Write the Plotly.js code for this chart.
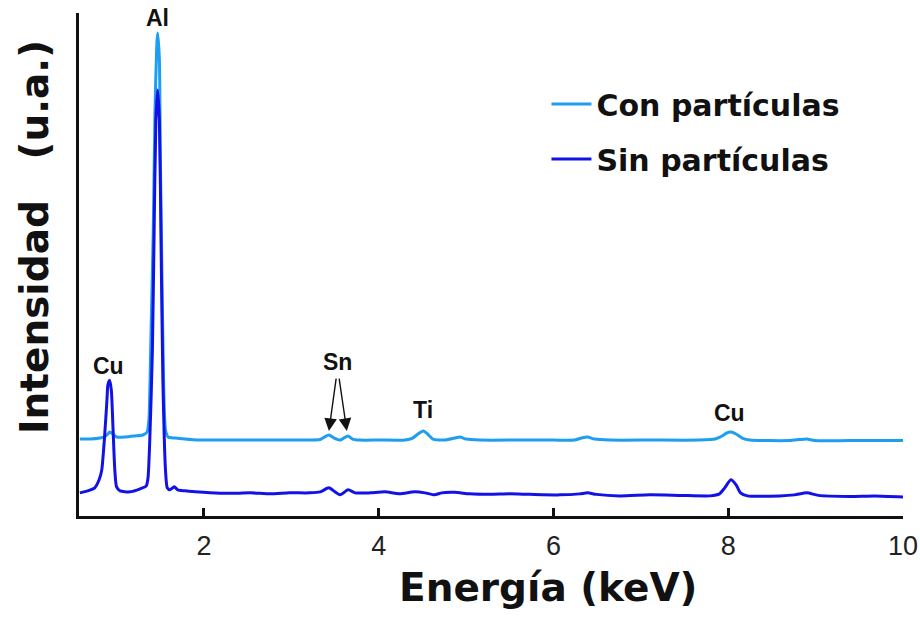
<!DOCTYPE html>
<html>
<head>
<meta charset="utf-8">
<script src="https://cdn.plot.ly/plotly-3.0.1.min.js"></script>
<style>html,body{margin:0;padding:0;background:#fff;}#chart{width:920px;height:617px;}</style>
</head>
<body>
<div id="chart"></div>
<script>
// Energy (keV) and intensity (a.u.)
const energyCon = [0.58,0.70,0.81,0.86,0.90,0.92,0.96,1.00,1.10,1.21,1.30,1.35,1.37,1.39,1.42,1.44,1.46,1.47,1.49,1.50,1.52,1.54,1.56,1.59,1.67,1.78,1.95,2.30,2.70,3.10,3.33,3.38,3.43,3.49,3.56,3.60,3.65,3.70,3.78,4.01,4.30,4.39,4.45,4.51,4.56,4.62,4.76,4.87,4.93,5.00,5.16,5.60,6.00,6.24,6.32,6.39,6.47,6.65,7.10,7.67,7.85,7.93,7.98,8.03,8.09,8.16,8.25,8.70,8.82,8.90,8.99,9.39,10.0];
const intensityCon = [15.3,15.3,15.5,15.7,16.3,16.7,16.3,15.7,15.7,15.9,16.1,16.7,19.1,33.0,56.9,80.7,93.6,96.0,90.7,72.8,46.9,25.0,17.1,15.7,15.5,15.3,15.1,15.1,15.1,15.1,15.2,15.7,16.1,15.5,15.1,15.5,15.9,15.3,15.1,15.1,15.1,15.5,16.3,16.9,16.3,15.3,15.1,15.5,15.7,15.3,15.1,15.1,15.1,15.1,15.5,15.7,15.3,15.1,15.1,15.1,15.3,15.9,16.5,16.7,16.3,15.5,15.1,15.0,15.2,15.3,15.0,15.0,15.0];

const energySin = [0.58,0.67,0.75,0.80,0.83,0.86,0.89,0.90,0.92,0.94,0.96,0.98,1.00,1.04,1.15,1.27,1.34,1.36,1.38,1.41,1.43,1.45,1.47,1.49,1.51,1.53,1.56,1.58,1.61,1.66,1.70,1.78,1.90,2.07,2.30,2.53,2.76,2.98,3.21,3.33,3.43,3.50,3.56,3.65,3.73,3.90,4.07,4.24,4.41,4.53,4.64,4.72,4.87,5.04,5.27,5.50,5.73,6.07,6.30,6.39,6.49,6.76,7.10,7.45,7.79,7.90,7.96,8.03,8.09,8.14,8.22,8.59,8.76,8.90,9.03,9.39,9.68,10.0];
const intensitySin = [4.6,5.0,5.6,7.2,9.1,15.1,23.1,26.0,27.0,25.0,17.1,9.1,5.8,5.0,4.8,5.4,6.0,7.6,15.1,33.0,56.9,78.7,84.7,78.7,52.9,27.0,9.1,5.6,5.2,5.8,5.2,5.0,4.8,4.6,4.5,4.6,4.4,4.6,4.6,4.8,5.6,4.8,4.2,5.2,4.6,4.6,4.8,4.4,4.8,4.6,4.2,4.6,4.7,4.4,4.3,4.4,4.3,4.2,4.4,4.6,4.3,4.0,4.2,4.1,4.0,4.4,5.6,7.2,6.2,4.6,4.0,4.0,4.2,4.6,4.1,3.9,4.0,3.8];

const seriesNames = ["Con partículas", "Sin partículas"];
const xTickVals = [2, 4, 6, 8, 10];
const xTickText = ["2", "4", "6", "8", "10"];
const xTitle = "Energía (keV)";
const yTitle = "Intensidad\u00a0\u00a0\u00a0(u.a.)";

// Peak labels
const peakLabels = ["Al", "Cu", "Sn", "Ti", "Cu"];
const peakLabelX = [1.47, 0.913, 3.53, 4.505, 8.02];
const peakLabelY = [99.0, 29.8, 30.6, 21.1, 20.5];
// Sn arrows (head x, head y, tail x, tail y)
const snArrowX = [3.43, 3.635];
const snArrowY = [16.9, 16.9];
const snTailX = [3.515, 3.545];
const snTailY = [27.6, 27.6];

const colCon = "#1E9EF0";
const colSin = "#1212E6";
const titleFont = "'DejaVu Sans', sans-serif";

const traces = [
  {x: energyCon, y: intensityCon, name: seriesNames[0], type: "scatter", mode: "lines",
   line: {color: colCon, width: 3, shape: "spline", smoothing: 0.6}, legendgroup: "a"},
  {x: energySin, y: intensitySin, name: seriesNames[1], type: "scatter", mode: "lines",
   line: {color: colSin, width: 3, shape: "spline", smoothing: 0.6}, legendgroup: "b"}
];

const annotations = [];
for (let i = 0; i < peakLabels.length; i++) {
  annotations.push({x: peakLabelX[i], y: peakLabelY[i], xref: "x", yref: "y", text: peakLabels[i],
    showarrow: false, font: {family: "'Liberation Sans', Arial, sans-serif", size: 23, color: "#111", weight: "bold"}});
}
for (let i = 0; i < snArrowX.length; i++) {
  annotations.push({x: snArrowX[i], y: snArrowY[i], xref: "x", yref: "y", ax: snTailX[i], ay: snTailY[i],
    axref: "x", ayref: "y", text: "", showarrow: true, arrowhead: 2, arrowsize: 1.8, arrowwidth: 1.4, arrowcolor: "#111"});
}
// axis titles
annotations.push({x: 0.569, y: -0.1431, xref: "paper", yref: "paper", xanchor: "center", yanchor: "middle",
  text: xTitle, showarrow: false, font: {family: titleFont, size: 39, color: "#111", weight: "bold"}});
annotations.push({x: -0.0534, y: 0.5547, xref: "paper", yref: "paper", xanchor: "center", yanchor: "middle",
  textangle: -90, text: yTitle, showarrow: false, font: {family: titleFont, size: 39, color: "#111", weight: "bold"}});

const layout = {
  width: 920, height: 617,
  margin: {l: 79, r: 17, t: 13, b: 101},
  paper_bgcolor: "#fff", plot_bgcolor: "#fff",
  showlegend: true,
  legend: {x: 0.5673, y: 0.871, xanchor: "left", yanchor: "top", traceorder: "grouped", tracegroupgap: 13,
    font: {family: titleFont, size: 30, color: "#111", weight: "bold"}, bgcolor: "rgba(0,0,0,0)", itemwidth: 40},
  xaxis: {range: [0.57, 10], showgrid: false, zeroline: false, showline: true, linecolor: "#111", linewidth: 3,
    ticks: "inside", ticklen: 8, tickwidth: 3, tickcolor: "#111", tickvals: xTickVals, ticktext: xTickText,
    tickfont: {family: "'Liberation Sans Narrow', 'Liberation Sans', Arial, sans-serif", size: 27, color: "#222"},
    ticklabelstandoff: 4},
  yaxis: {range: [0, 100], showgrid: false, zeroline: false, showline: true, linecolor: "#111", linewidth: 3,
    ticks: "", showticklabels: false},
  annotations: annotations
};

Plotly.newPlot("chart", traces, layout, {staticPlot: true});
</script>
</body>
</html>
